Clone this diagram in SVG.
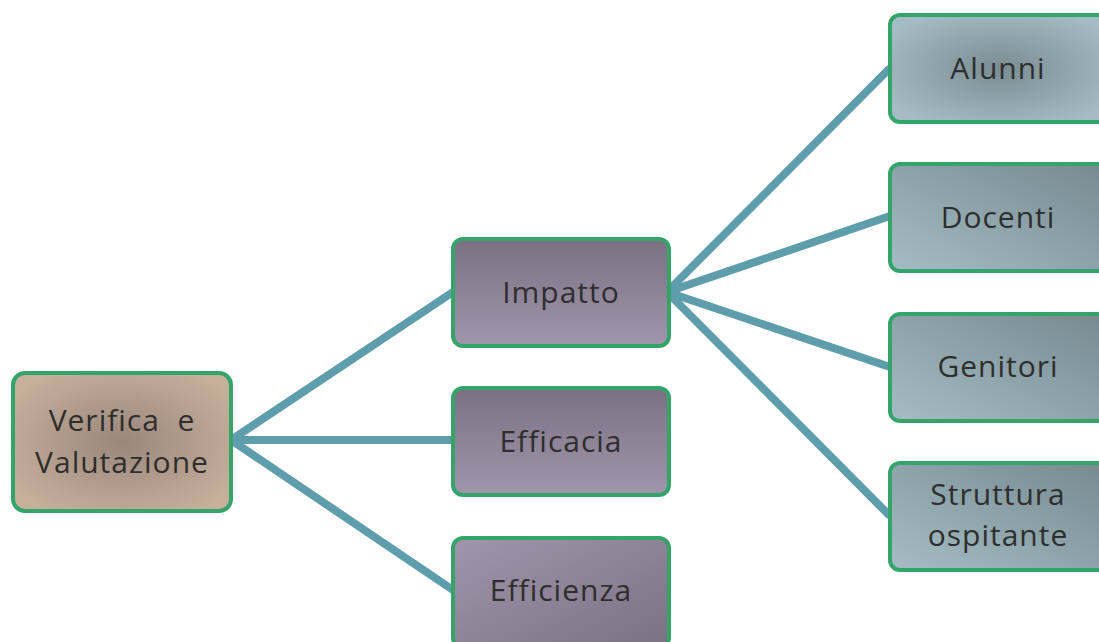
<svg xmlns="http://www.w3.org/2000/svg" width="1099" height="642" viewBox="0 0 1099 642">
<style>
.box{stroke:#34a46a;stroke-width:4}
.lbl{font-family:"Open Sans","Liberation Sans",sans-serif;font-size:30px;letter-spacing:1px;fill:#2e2e2e;text-anchor:middle;white-space:pre}
.con{stroke:#5e9dab;stroke-width:8;fill:none;stroke-linecap:butt}
</style>
<defs>
<radialGradient id="gRoot" cx="0.5" cy="0.5" r="0.6">
<stop offset="0" stop-color="#9a877b"/>
<stop offset="1" stop-color="#c6af9b"/>
</radialGradient>
<linearGradient id="gMid" x1="0" y1="0" x2="0" y2="1">
<stop offset="0" stop-color="#7b7183"/>
<stop offset="1" stop-color="#a095aa"/>
</linearGradient>
<linearGradient id="gMid2" x1="0" y1="0" x2="1" y2="1">
<stop offset="0" stop-color="#a095aa"/>
<stop offset="1" stop-color="#7b7183"/>
</linearGradient>
<radialGradient id="gRight" cx="0.5" cy="0.5" r="0.6">
<stop offset="0" stop-color="#7a8c92"/>
<stop offset="1" stop-color="#a4bdc4"/>
</radialGradient>
<linearGradient id="gRight2" x1="0" y1="1" x2="1" y2="0">
<stop offset="0" stop-color="#a4bdc4"/>
<stop offset="1" stop-color="#76898f"/>
</linearGradient>
</defs>
<g id="connectors">
<line class="con" x1="231" y1="440" x2="453" y2="292"/>
<line class="con" x1="231" y1="440" x2="453" y2="440"/>
<line class="con" x1="231" y1="440" x2="453" y2="590"/>
<line class="con" x1="667" y1="292" x2="890" y2="68"/>
<line class="con" x1="667" y1="292" x2="890" y2="216"/>
<line class="con" x1="667" y1="292" x2="890" y2="367"/>
<line class="con" x1="667" y1="292" x2="890" y2="516"/>
</g>
<g id="root">
<rect class="box" x="13" y="373" width="218" height="138" rx="12" fill="url(#gRoot)"/>
<text class="lbl" x="122" y="431" xml:space="preserve">Verifica  e</text>
<text class="lbl" x="122" y="473">Valutazione</text>
</g>
<g id="impatto">
<rect class="box" x="453" y="239" width="216" height="107" rx="10" fill="url(#gMid)"/>
<text class="lbl" x="561" y="303">Impatto</text>
</g>
<g id="efficacia">
<rect class="box" x="453" y="388" width="216" height="107" rx="10" fill="url(#gMid)"/>
<text class="lbl" x="561" y="452">Efficacia</text>
</g>
<g id="efficienza">
<rect class="box" x="453" y="538" width="216" height="110" rx="10" fill="url(#gMid2)"/>
<text class="lbl" x="561" y="601">Efficienza</text>
</g>
<g id="alunni">
<rect class="box" x="890" y="15" width="220" height="107" rx="10" fill="url(#gRight)"/>
<text class="lbl" x="998" y="79">Alunni</text>
</g>
<g id="docenti">
<rect class="box" x="890" y="164" width="220" height="107" rx="10" fill="url(#gRight2)"/>
<text class="lbl" x="998" y="228">Docenti</text>
</g>
<g id="genitori">
<rect class="box" x="890" y="314" width="220" height="107" rx="10" fill="url(#gRight2)"/>
<text class="lbl" x="998" y="377">Genitori</text>
</g>
<g id="struttura">
<rect class="box" x="890" y="463" width="220" height="107" rx="10" fill="url(#gRight2)"/>
<text class="lbl" x="998" y="505">Struttura</text>
<text class="lbl" x="998" y="546">ospitante</text>
</g>
</svg>
